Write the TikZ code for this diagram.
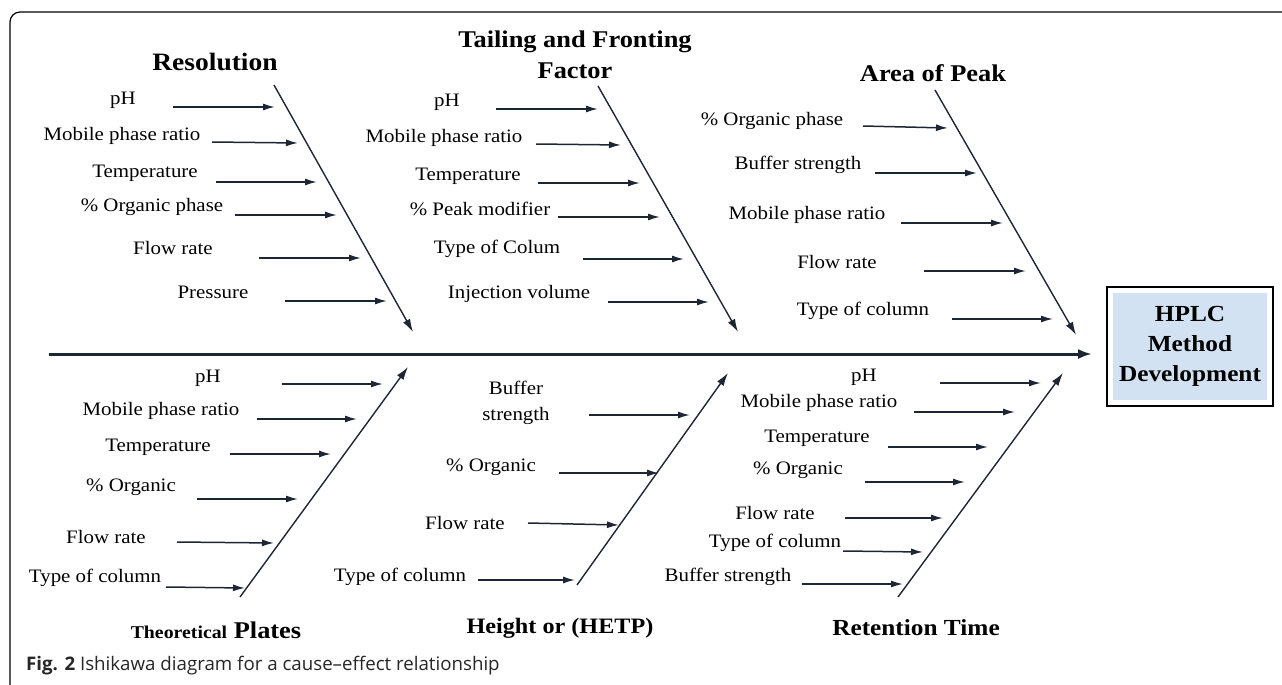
\documentclass[tikz,border=0pt]{standalone}
\usepackage{fontspec}
\setmainfont{Liberation Serif}[FakeStretch=1.1]
\newfontfamily\captionfont{Open Sans}
\usepackage{tikz}
\usetikzlibrary{arrows.meta}
\definecolor{bonecol}{HTML}{1E2533}
\definecolor{boxblue}{HTML}{D2E2F2}

\begin{document}
\begin{tikzpicture}[x=1pt, y=-1pt,
  cause/.style={font=\fontsize{19}{26}\selectfont, inner sep=0pt, align=center},
  effect/.style={font=\fontsize{24}{31}\selectfont\bfseries, inner sep=0pt, align=center},
  twig/.style={draw=bonecol, line width=1.5pt, -{Latex[length=12pt,width=7pt]}},
  bone/.style={draw=bonecol, line width=1.4pt, -{Latex[length=13pt,width=8pt]}},
  headbox/.style={draw, line width=1.8pt, fill=boxblue, minimum width=166pt, minimum height=119pt,
    inner sep=0pt, align=center, font=\fontsize{23}{30}\selectfont\bfseries}]
  \useasboundingbox (0,0) rectangle (1282,685);

  % Frame
  \draw[line width=1.2pt, rounded corners=10pt] (10,690) -- (10,12) -- (1290,12);

  % Effect box
  \node[headbox] (hplc) at (1190,346.5) {HPLC\\Method\\Development};
  \draw[white, line width=5pt] ([shift={(4,4)}]hplc.north west) rectangle ([shift={(-4,-4)}]hplc.south east);

  % Main spine
  \coordinate (tail) at (49,354);
  \draw[draw=bonecol, line width=3pt, -{Latex[length=14pt,width=10pt]}, shorten >=14pt] (tail) -- (tail -| hplc.west);

  % Category titles
  \node[effect, font=\fontsize{25}{31}\selectfont\bfseries] (resolution) at (215,62) {Resolution};
  \node[effect] (tailing) at (575,55) {Tailing and Fronting\\Factor};
  \node[effect] (area) at (933,73) {Area of Peak};
  \node[effect] (plates) at (216,630) {{\fontsize{18}{20}\selectfont Theoretical} Plates};
  \node[effect, font=\fontsize{22}{31}\selectfont\bfseries] (hetp) at (560,628) {Height or (HETP)};
  \node[effect, font=\fontsize{23}{31}\selectfont\bfseries] (retention) at (916,628) {Retention Time};

  % Bones
  \coordinate (res-a) at (274,85);   \coordinate (res-b) at (413,332);
  \coordinate (tail-a) at (598,86);  \coordinate (tail-b) at (738,332);
  \coordinate (area-a) at (935,90);  \coordinate (area-b) at (1076,335);
  \coordinate (pl-a) at (240,597);   \coordinate (pl-b) at (408,367);
  \coordinate (hetp-a) at (577,585); \coordinate (hetp-b) at (728,373);
  \coordinate (ret-a) at (898,597);  \coordinate (ret-b) at (1063,373);
  \foreach \b in {res,tail,area,pl,hetp,ret}
    \draw[bone] (\b-a) -- (\b-b);

  % Causes: label / label pos / arrow start / arrow end
  \foreach \txt/\lx/\ly/\ax/\ay/\bx/\by [count=\i] in {
    pH/123/100/173/107/275/107,
    Mobile phase ratio/122/136/212/142/298/143,
    Temperature/145/173/216/182/317/182,
    \% Organic phase/152/207/235/215/337/215,
    Flow rate/173/248/259/258/361/258,
    Pressure/213/292/285/301/387/301,
    pH/447/102/496/109/598/109,
    Mobile phase ratio/444/138/536/144/621/145,
    Temperature/468/176/538/183/640/183,
    \% Peak modifier/480/209/558/217/660/217,
    Type of Colum/497/249/583/259/684/259,
    Injection volume/519/294/608/302/709/302,
    \% Organic phase/772/121/863/126/948/128,
    Buffer strength/798/165/875/173/977/173,
    Mobile phase ratio/807/215/901/223/1003/223,
    Flow rate/837/262/924/271/1026/271,
    Type of column/863/311/952/319/1053/319,
    pH/208/378/282/384/383/384,
    Mobile phase ratio/161/411/257/419/357/419,
    Temperature/158/447/230/454/331/454,
    \% Organic/131/487/197/499/298/499,
    Flow rate/106/537/177/542/274/543,
    Type of column/95/578/166/587/245/588,
    {Buffer\\strength}/516/403/589/415/690/415,
    \% Organic/491/467/559/473/659/473,
    Flow rate/465/523/528/523/619/525,
    Type of column/400/577/478/580/575/580,
    pH/864/377/940/383/1041/383,
    Mobile phase ratio/819/403/914/412/1015/412,
    Temperature/817/438/888/447/988/447,
    \% Organic/798/470/865/482/965/482,
    Flow rate/775/513/845/518/943/518,
    Type of column/775/543/843/551/923/552,
    Buffer strength/728/577/802/584/903/584}
  {
    \node[cause] (c\i) at (\lx,\ly) {\txt};
    \coordinate (c\i-s) at (\ax,\ay);
    \coordinate (c\i-e) at (\bx,\by);
    \draw[twig] (c\i-s) -- (c\i-e);
  }

  % Caption
  \node[anchor=west, inner sep=0pt, text=black!85, font=\captionfont\fontsize{18.7}{22}\selectfont] (caption) at (26,666)
    {\textbf{Fig. 2} Ishikawa diagram for a cause–effect relationship};
\end{tikzpicture}
\end{document}
